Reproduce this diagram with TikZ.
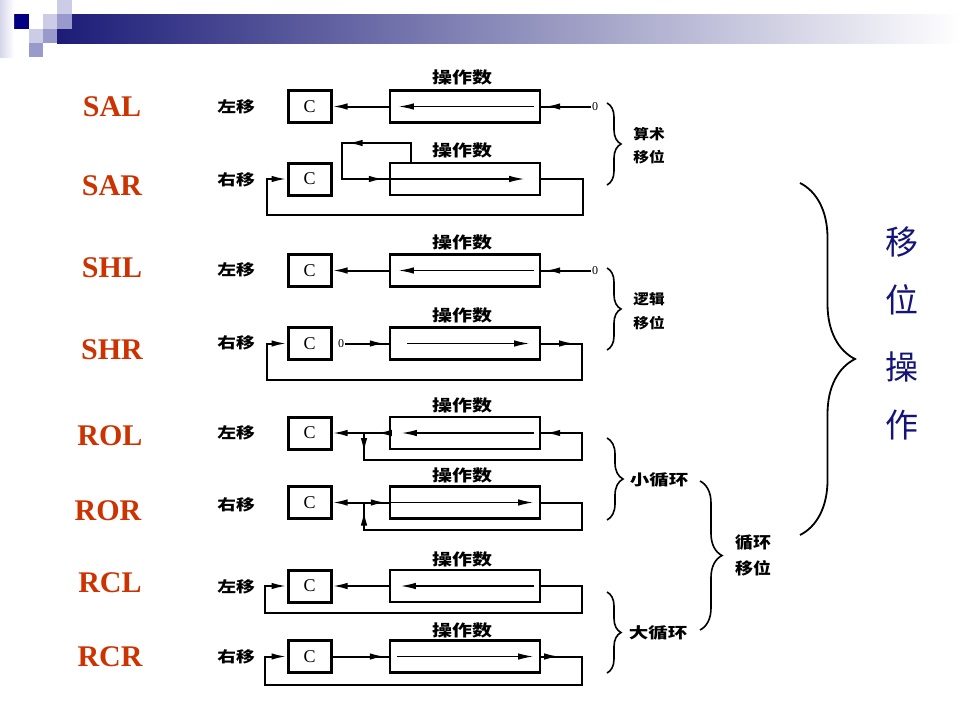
\documentclass[tikz,border=0pt]{standalone}
\usepackage{fontspec}
\setmainfont{Liberation Serif}
\newfontfamily\cjka[FakeStretch=1.25]{Noto Sans CJK SC}
\newfontfamily\cjkb[FakeStretch=1.12]{Noto Sans CJK SC}
\newfontfamily\cjkc[FakeStretch=1.3]{Noto Sans CJK SC}
\newfontfamily\cjkn{Noto Sans CJK SC}
\usetikzlibrary{arrows.meta,decorations.markings,decorations.pathreplacing,calc}
\definecolor{hnavy}{RGB}{28,28,120}
\definecolor{hnavyb}{RGB}{0,0,128}
\definecolor{hmed}{RGB}{153,153,204}
\definecolor{hlight}{RGB}{204,204,230}
\definecolor{labred}{RGB}{204,51,0}
\definecolor{bignavy}{RGB}{20,20,120}
\tikzset{
  ah/.tip={Latex[length=15pt,width=6.5pt]},
  cbox/.style={draw, line width=3pt, minimum width=43pt, minimum height=32pt, inner sep=0pt, font=\fontsize{18}{18}\selectfont},
  opbox/.style={draw, line width=2.4pt, minimum width=150pt, minimum height=32pt, inner sep=0pt},
  conn/.style={line width=2pt},
  innerln/.style={line width=1.3pt},
  tipat/.style={postaction={decorate,decoration={markings,mark=at position #1 with {\arrow{ah}}}}},
  oplabel/.style={text=labred, font=\fontsize{30}{30}\selectfont\bfseries},
  dirlabel/.style={font=\cjka\fontsize{15}{15}\selectfont\bfseries},
  numlabel/.style={font=\cjka\fontsize{16}{16}\selectfont\bfseries},
  zerolabel/.style={font=\fontsize{12}{12}\selectfont, inner sep=1pt},
  grouplabel/.style={font=\cjkb\fontsize{14}{14}\selectfont\bfseries},
  looplabel/.style={font=\cjkc\fontsize{15}{15}\selectfont\bfseries},
  bigchar/.style={text=bignavy, font=\cjkn\fontsize{33}{33}\selectfont},
  bracestyle/.style={line width=1.6pt, decorate, decoration={brace, amplitude=#1}},
}
\begin{document}
\begin{tikzpicture}[x=1pt,y=-1pt]
\fill[white] (0,0) rectangle (960,720);
\useasboundingbox (0,0) rectangle (960,720);
% ---- header ----
\shade[left color=hnavy, right color=white] (57,14) rectangle (960,43);
\fill[hmed] (57,14) rectangle (72,29);
\fill[hnavyb] (14,14) rectangle (29,29);
\fill[hlight] (43,14) rectangle (57,29);
\fill[hlight] (57,0) rectangle (72,14);
\fill[hlight] (29,29) rectangle (43,43);
\fill[hmed] (43,29) rectangle (57,43);
\fill[hmed] (29,43) rectangle (43,57);
\shade[left color=hlight!80, right color=white] (0,0) rectangle (14,57);

% ---- left labels ----
\node[oplabel] (lSAL) at (112,107) {SAL};
\node[oplabel] (lSAR) at (112,186) {SAR};
\node[oplabel] (lSHL) at (112,268) {SHL};
\node[oplabel] (lSHR) at (112,350) {SHR};
\node[oplabel] (lROL) at (110,436) {ROL};
\node[oplabel] (lROR) at (108,511) {ROR};
\node[oplabel] (lRCL) at (110,583) {RCL};
\node[oplabel] (lRCR) at (110,657) {RCR};

% ---- direction labels ----
\node[dirlabel] (d1) at (236,107) {左移};
\node[dirlabel] (d2) at (236,180) {右移};
\node[dirlabel] (d3) at (236,270) {左移};
\node[dirlabel] (d4) at (236,343) {右移};
\node[dirlabel] (d5) at (236,433) {左移};
\node[dirlabel] (d6) at (236,505) {右移};
\node[dirlabel] (d7) at (236,587) {左移};
\node[dirlabel] (d8) at (236,657) {右移};

% ---- C boxes and operand boxes ----
\node[cbox] (c1) at (309.5,106.5) {C};
\node[opbox] (op1) at (465,106.5) {};
\node[cbox] (c2) at (309.5,179) {C};
\node[opbox] (op2) at (465,179) {};
\node[cbox] (c3) at (309.5,270.5) {C};
\node[opbox] (op3) at (465,270.5) {};
\node[cbox] (c4) at (309.5,343.5) {C};
\node[opbox] (op4) at (465,343.5) {};
\node[cbox] (c5) at (309.5,433) {C};
\node[opbox] (op5) at (465,433) {};
\node[cbox] (c6) at (309.5,502.5) {C};
\node[opbox] (op6) at (465,502.5) {};
\node[cbox] (c7) at (309.5,586) {C};
\node[opbox] (op7) at (465,586) {};
\node[cbox] (c8) at (309.5,656.5) {C};
\node[opbox] (op8) at (465,656.5) {};

% ---- operand labels ----
\node[numlabel] (n1) at (462,77) {操作数};
\node[numlabel] (n2) at (462,150) {操作数};
\node[numlabel] (n3) at (462,242) {操作数};
\node[numlabel] (n4) at (462,315) {操作数};
\node[numlabel] (n5) at (462,405) {操作数};
\node[numlabel] (n6) at (462,475) {操作数};
\node[numlabel] (n7) at (462,559) {操作数};
\node[numlabel] (n8) at (462,630) {操作数};

% ---- SAL ----
\node[zerolabel] (z1) at (595,106.5) {0};
\draw[conn,-{ah}] (op1.west) -- (c1.east);
\draw[innerln,-{ah}] ($(op1.east)+(-7,0)$) -- ($(op1.west)+(10,0)$);
\draw[conn,tipat=-4pt] (z1.west) -- (op1.east);

% ---- SAR ----
\draw[conn,tipat=82pt,tipat=-5pt] ($(op2.north west)+(22,0)$) |- (342,143) -- (342,179) -- (op2.west);
\draw[innerln,-{ah}] (op2.west) -- ($(op2.east)+(-17,0)$);
\draw[conn,-{ah}] (op2.east) -- (583,179) -- (583,215) -- (267,215) -- (267,179) -- (c2.west);

% ---- SHL ----
\node[zerolabel] (z3) at (595,270.5) {0};
\draw[conn,-{ah}] (op3.west) -- (c3.east);
\draw[innerln,-{ah}] ($(op3.east)+(-7,0)$) -- ($(op3.west)+(10,0)$);
\draw[conn,tipat=-4pt] (z3.west) -- (op3.east);

% ---- SHR ----
\node[zerolabel] (z4) at (341,343.5) {0};
\draw[conn,tipat=-4pt] (z4.east) -- (op4.west);
\draw[innerln,-{ah}] ($(op4.west)+(18,0)$) -- ($(op4.east)+(-12,0)$);
\draw[conn,-{ah},tipat=33pt] (op4.east) -- (582,343.5) -- (582,380) -- (267,380) -- (267,343.5) -- (c4.west);

% ---- ROL ----
\coordinate (j5) at (364,433);
\draw[conn,-{ah},tipat=12pt] (op5.west) -- (c5.east);
\draw[conn,tipat=20pt,tipat=-4pt] (j5) -- (364,460) -- (582,460) -- (582,433) -- (op5.east);
\draw[innerln,-{ah}] ($(op5.east)+(-7,0)$) -- ($(op5.west)+(13,0)$);

% ---- ROR ----
\coordinate (j6) at (364,502.5);
\draw[conn,-{ah}] (j6) -- (c6.east);
\draw[conn,tipat=-3pt] (j6) -- (op6.west);
\draw[conn,tipat=-8pt] (op6.east) -- (582,502.5) -- (582,530) -- (364,530) -- (j6);
\draw[innerln,-{ah}] ($(op6.west)+(2,0)$) -- ($(op6.east)+(-8,0)$);

% ---- RCL ----
\draw[conn,-{ah}] (op7.west) -- (c7.east);
\draw[innerln,-{ah}] ($(op7.east)+(-7,0)$) -- ($(op7.west)+(12,0)$);
\draw[conn,-{ah}] (op7.east) -- (582,586) -- (582,613) -- (265,613) -- (265,586) -- (c7.west);

% ---- RCR ----
\draw[conn,tipat=-4pt] (c8.east) -- (op8.west);
\draw[innerln,-{ah}] ($(op8.west)+(8,0)$) -- ($(op8.east)+(-8,0)$);
\draw[conn,-{ah},tipat=18pt] (op8.east) -- (582,656.5) -- (582,685) -- (265,685) -- (265,656.5) -- (c8.west);

% ---- braces ----
\coordinate (b1a) at (607,103); \coordinate (b1b) at (607,185);
\draw[bracestyle=14pt] (b1a) -- (b1b);
\node[grouplabel] (g1a) at (649,134) {算术};
\node[grouplabel] (g1b) at (649,157) {移位};

\coordinate (b2a) at (607,268); \coordinate (b2b) at (607,350);
\draw[bracestyle=14pt] (b2a) -- (b2b);
\node[grouplabel] (g2a) at (649,299) {逻辑};
\node[grouplabel] (g2b) at (649,323) {移位};

\coordinate (b3a) at (607,438); \coordinate (b3b) at (607,520);
\draw[bracestyle=16pt] (b3a) -- (b3b);
\node[looplabel] (g3) at (659,480) {小循环};

\coordinate (b4a) at (607,592); \coordinate (b4b) at (607,673);
\draw[bracestyle=14pt] (b4a) -- (b4b);
\node[looplabel] (g4) at (658,633) {大循环};

\coordinate (b5a) at (700,481); \coordinate (b5b) at (700,630);
\draw[bracestyle=22pt] (b5a) -- (b5b);
\node[grouplabel,font=\cjkb\fontsize{16}{16}\selectfont\bfseries] (g5a) at (753,543) {循环};
\node[grouplabel,font=\cjkb\fontsize{16}{16}\selectfont\bfseries] (g5b) at (753,568) {移位};

\coordinate (b6a) at (800,183); \coordinate (b6b) at (800,535);
\draw[line width=1.8pt, decorate, decoration={brace, amplitude=55pt, aspect=0.5}] (b6a) -- (b6b);
\node[bigchar] (k1) at (902,242) {移};
\node[bigchar] (k2) at (902,300) {位};
\node[bigchar] (k3) at (902,367) {操};
\node[bigchar] (k4) at (902,425) {作};
\end{tikzpicture}
\end{document}
